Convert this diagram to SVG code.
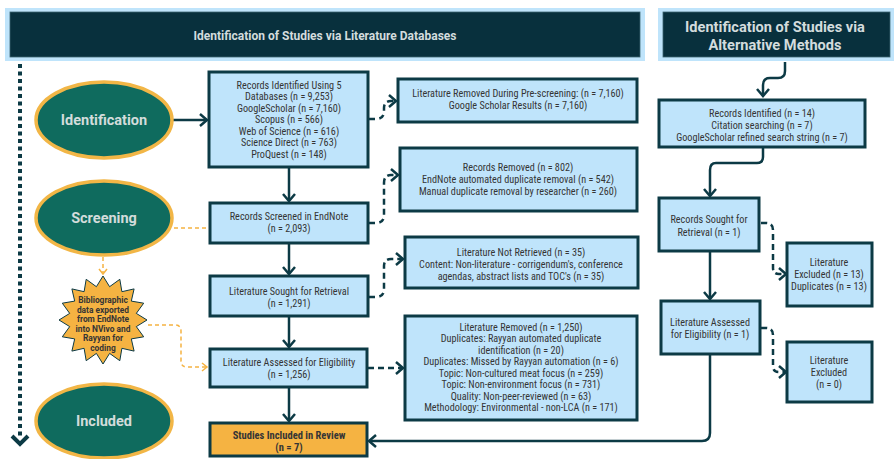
<svg xmlns="http://www.w3.org/2000/svg" width="894" height="459" viewBox="0 0 894 459">
<defs>
<style>
.box{fill:#bfe4fb;stroke:#0c3a45;stroke-width:3}
.obox{fill:#f5b342;stroke:#0c3a45;stroke-width:3}
.t{font-family:"Liberation Sans Narrow","Roboto Condensed","DejaVu Sans Condensed",Roboto,sans-serif;font-size:10.2px;fill:#353535;text-anchor:middle}
.b{font-weight:bold;font-size:10.5px}
.ell{fill:#0f6b5e;stroke:#f2b646;stroke-width:3.5}
.et{font-family:"Liberation Sans Narrow",Roboto,sans-serif;font-weight:bold;font-size:14.5px;fill:#d3dcdb;text-anchor:middle}
.ttl{font-family:"Liberation Sans Narrow",Roboto,sans-serif;font-weight:bold;fill:#d3dcdd;text-anchor:middle}
.con{fill:none;stroke:#0c3a45;stroke-width:2.5}
.dash{stroke-dasharray:6 4}
.odash{fill:none;stroke:#f5b342;stroke-width:1.5;stroke-dasharray:4 3}
.st{font-family:"Liberation Sans Narrow",Roboto,sans-serif;font-weight:bold;font-size:8.4px;fill:#353535;text-anchor:middle}
</style>
<marker id="ah" markerUnits="userSpaceOnUse" markerWidth="12" markerHeight="14" refX="8" refY="7" orient="auto">
<path d="M1,1 L8,7 L1,13" fill="none" stroke="#0c3a45" stroke-width="2.5"/>
</marker>
<marker id="oh" markerUnits="userSpaceOnUse" markerWidth="10" markerHeight="10" refX="6" refY="5" orient="auto">
<path d="M1,1 L6,5 L1,9" fill="none" stroke="#f5b342" stroke-width="1.5"/>
</marker>
</defs>
<rect width="894" height="459" fill="#ffffff"/>

<g id="banner-left">
<rect x="5" y="8" width="640" height="53" fill="#bfe4fb"/>
<rect x="10" y="12" width="630" height="45" fill="#08303d" stroke="#3d6470" stroke-width="0.8"/>
<text class="ttl" x="325" y="39.5" font-size="12">Identification of Studies via Literature Databases</text>
</g>
<g id="banner-right">
<rect x="658" y="8" width="236" height="53" fill="#bfe4fb"/>
<rect x="663" y="12" width="227" height="45" fill="#08303d" stroke="#3d6470" stroke-width="0.8"/>
<text class="ttl" x="775" y="32" font-size="14.6">Identification of Studies via</text>
<text class="ttl" x="775" y="50" font-size="14.6">Alternative Methods</text>
</g>

<g id="connectors">
<path d="M20,64 V436" fill="none" stroke="#0c3a45" stroke-width="4" stroke-dasharray="4 3.5"/>
<path d="M12,436 L20,444 L28,436" fill="none" stroke="#0c3a45" stroke-width="4"/>
<path class="con" d="M173,120 H207" marker-end="url(#ah)"/>
<path class="con" d="M289,168 V201" marker-end="url(#ah)"/>
<path class="con" d="M289,244 V274" marker-end="url(#ah)"/>
<path class="con" d="M289,317 V347" marker-end="url(#ah)"/>
<path class="con" d="M289,388 V421" marker-end="url(#ah)"/>
<path class="con dash" d="M369,119 H376 Q384,119 384,111 V108 Q384,101 391,101 H396" marker-end="url(#ah)"/>
<path class="con dash" d="M369,223 H376 Q384,223 384,215 V183 Q384,175 391,175 H398" marker-end="url(#ah)"/>
<path class="con dash" d="M369,297 H376 Q384,297 384,289 V266 Q384,259 391,259 H403" marker-end="url(#ah)"/>
<path class="con dash" d="M368,368 H403" marker-end="url(#ah)"/>
<path class="con" d="M710,355 V433 Q710,441 702,441 H369" marker-end="url(#ah)"/>
<path class="con" d="M785,62 V71 Q785,78 778,78 H770 Q763,78 763,85 V96" marker-end="url(#ah)"/>
<path class="con" d="M763,148 V157 Q763,163 757,163 H716 Q710,163 710,170 V196" marker-end="url(#ah)"/>
<path class="con" d="M710,252 V299" marker-end="url(#ah)"/>
<path class="con dash" d="M761,223 H766 Q773,223 773,230 V268 Q773,274 779,274 H786" marker-end="url(#ah)"/>
<path class="con dash" d="M761,328 H766 Q773,328 773,335 V366 Q773,372 779,372 H786" marker-end="url(#ah)"/>
<path class="odash" d="M174,228 H209"/>
<path class="odash" d="M103,257 V274" marker-end="url(#oh)"/>
<path class="odash" d="M148,325 H175 Q181,325 181,331 V361 Q181,367 187,367 H207" marker-end="url(#oh)"/>
</g>

<g id="ell-identification">
<ellipse class="ell" cx="104" cy="120" rx="68" ry="38"/>
<text class="et" x="104" y="125">Identification</text>
</g>
<g id="ell-screening">
<ellipse class="ell" cx="104" cy="218" rx="68" ry="37"/>
<text class="et" x="104" y="223">Screening</text>
</g>
<g id="ell-included">
<ellipse class="ell" cx="104" cy="421" rx="68" ry="37"/>
<text class="et" x="104" y="426">Included</text>
</g>

<g id="star-export">
<polygon points="103,276 109.6,286.7 119.8,279.3 121.9,291.7 134.1,288.9 131.3,301.1 143.7,303.2 136.3,313.4 147,320 136.3,326.6 143.7,336.8 131.3,338.9 134.1,351.1 121.9,348.3 119.8,360.7 109.6,353.4 103,364 96.4,353.4 86.2,360.7 84.1,348.3 71.9,351.1 74.7,338.9 62.3,336.8 69.7,326.6 59,320 69.7,313.4 62.3,303.2 74.7,301.1 71.9,288.9 84.1,291.7 86.2,279.3 96.4,286.7" fill="#f5b342" stroke="#0c3a45" stroke-width="1"/>
<text class="st" x="103" y="303">Bibliographic</text>
<text class="st" x="103" y="312.5">data exported</text>
<text class="st" x="103" y="322">from EndNote</text>
<text class="st" x="103" y="331.5">into NVivo and</text>
<text class="st" x="103" y="341">Rayyan for</text>
<text class="st" x="103" y="350.5">coding</text>
</g>

<g id="records-identified">
<rect class="box" x="209" y="72" width="159" height="95"/>
<text class="t" x="289" y="88.5">Records Identified Using 5</text>
<text class="t" x="289" y="100">Databases (n = 9,253)</text>
<text class="t" x="289" y="111.5">GoogleScholar (n = 7,160)</text>
<text class="t" x="289" y="123">Scopus (n = 566)</text>
<text class="t" x="289" y="134.5">Web of Science (n = 616)</text>
<text class="t" x="289" y="146">Science Direct (n = 763)</text>
<text class="t" x="289" y="157.5">ProQuest (n = 148)</text>
</g>
<g id="records-screened">
<rect class="box" x="210" y="203" width="158" height="40"/>
<text class="t" x="289" y="220">Records Screened in EndNote</text>
<text class="t" x="289" y="232">(n = 2,093)</text>
</g>
<g id="sought-retrieval">
<rect class="box" x="210" y="276" width="158" height="40"/>
<text class="t" x="289" y="295">Literature Sought for Retrieval</text>
<text class="t" x="289" y="307">(n = 1,291)</text>
</g>
<g id="assessed-eligibility">
<rect class="box" x="210" y="349" width="157" height="38"/>
<text class="t" x="289" y="366">Literature Assessed for Eligibility</text>
<text class="t" x="289" y="378">(n = 1,256)</text>
</g>
<g id="studies-included">
<rect class="obox" x="210" y="423" width="157" height="33"/>
<text class="t b" x="289" y="439">Studies Included in Review</text>
<text class="t b" x="289" y="451">(n = 7)</text>
</g>

<g id="removed-prescreening">
<rect class="box" x="398" y="79" width="239" height="43"/>
<text class="t" x="518" y="97">Literature Removed During Pre-screening: (n = 7,160)</text>
<text class="t" x="518" y="109">Google Scholar Results (n = 7,160)</text>
</g>
<g id="records-removed">
<rect class="box" x="400" y="148" width="237" height="63"/>
<text class="t" x="518" y="170.5">Records Removed (n =  802)</text>
<text class="t" x="518" y="182.5">EndNote automated duplicate removal (n = 542)</text>
<text class="t" x="518" y="194.5">Manual duplicate removal by researcher (n = 260)</text>
</g>
<g id="not-retrieved">
<rect class="box" x="405" y="237" width="233" height="51"/>
<text class="t" x="521" y="255.5">Literature Not Retrieved (n = 35)</text>
<text class="t" x="521" y="267.5">Content: Non-literature - corrigendum's, conference</text>
<text class="t" x="521" y="279.5">agendas, abstract lists and TOC's (n =  35)</text>
</g>
<g id="literature-removed">
<rect class="box" x="405" y="316" width="232" height="104"/>
<text class="t" x="521" y="330.5">Literature Removed (n = 1,250)</text>
<text class="t" x="521" y="342">Duplicates: Rayyan automated duplicate</text>
<text class="t" x="521" y="353.5">identification (n = 20)</text>
<text class="t" x="521" y="365">Duplicates: Missed by Rayyan automation (n = 6)</text>
<text class="t" x="521" y="376.5">Topic: Non-cultured meat focus (n = 259)</text>
<text class="t" x="521" y="388">Topic: Non-environment focus (n =  731)</text>
<text class="t" x="521" y="399.5">Quality: Non-peer-reviewed (n = 63)</text>
<text class="t" x="521" y="411">Methodology: Environmental - non-LCA (n = 171)</text>
</g>

<g id="alt-records-identified">
<rect class="box" x="659" y="100" width="206" height="47"/>
<text class="t" x="762" y="116.5">Records Identified (n = 14)</text>
<text class="t" x="762" y="128.5">Citation searching (n = 7)</text>
<text class="t" x="762" y="140.5">GoogleScholar refined search string (n = 7)</text>
</g>
<g id="alt-sought">
<rect class="box" x="659" y="198" width="100" height="53"/>
<text class="t" x="709" y="222.5">Records Sought for</text>
<text class="t" x="709" y="235.5">Retrieval (n = 1)</text>
</g>
<g id="alt-excluded-13">
<rect class="box" x="787" y="243" width="85" height="63"/>
<text class="t" x="829" y="266">Literature</text>
<text class="t" x="829" y="278">Excluded (n = 13)</text>
<text class="t" x="829" y="290">Duplicates (n = 13)</text>
</g>
<g id="alt-assessed">
<rect class="box" x="661" y="301" width="99" height="53"/>
<text class="t" x="710" y="325.5">Literature Assessed</text>
<text class="t" x="710" y="337.5">for Eligibility (n = 1)</text>
</g>
<g id="alt-excluded-0">
<rect class="box" x="787" y="342" width="85" height="60"/>
<text class="t" x="829" y="364">Literature</text>
<text class="t" x="829" y="376">Excluded</text>
<text class="t" x="829" y="388">(n = 0)</text>
</g>
</svg>
